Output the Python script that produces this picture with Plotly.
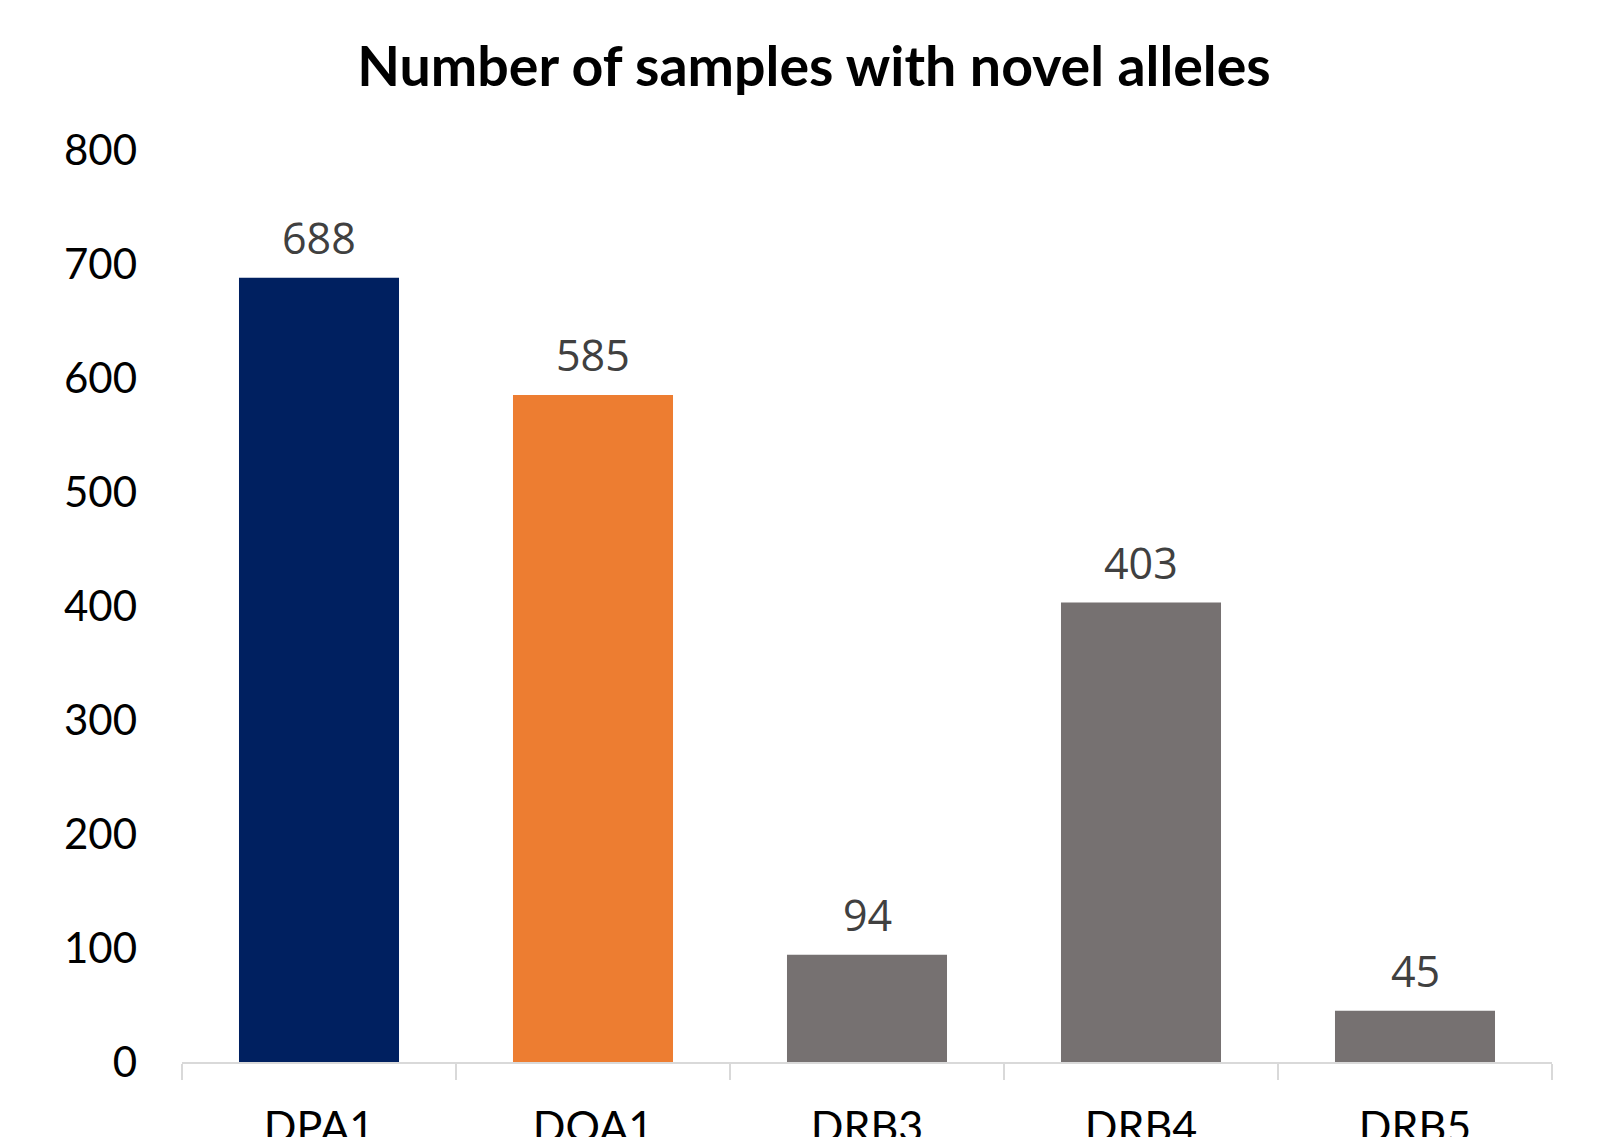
import plotly.graph_objects as go

categories = ["DPA1", "DQA1", "DRB3", "DRB4", "DRB5"]
values = [688, 585, 94, 403, 45]
bar_colors = ["#002060", "#ED7D31", "#767171", "#767171", "#767171"]
y_ticks = [0, 100, 200, 300, 400, 500, 600, 700, 800]
title_text = "Number of samples with novel alleles"

W, H = 1590, 1129  # page body has an 8px margin

fig = go.Figure()
fig.add_trace(go.Bar(
    x=categories, y=values,
    marker=dict(color=bar_colors, line=dict(width=0)),
    hoverinfo="x+y",
))

for c, v in zip(categories, values):
    fig.add_annotation(
        x=c, y=v, xref="x", yref="y", text=str(v), showarrow=False,
        yanchor="bottom", yshift=9,
        font=dict(family="Open Sans", size=43, color="#404040"),
    )

fig.update_layout(
    width=W, height=H,
    margin=dict(l=174, r=46, t=142, b=75, autoexpand=False),
    paper_bgcolor="white", plot_bgcolor="white",
    bargap=0.416,
    showlegend=False,
    title=dict(
        text="<b>" + title_text + "</b>",
        x=(806 - 174) / 1370, xref="paper", xanchor="center",
        y=1 - 59 / H, yref="container", yanchor="middle",
        font=dict(family="Lato", size=55.5, color="black"),
    ),
    xaxis=dict(
        type="category",
        showline=True, linecolor="#d9d9d9", linewidth=2,
        ticks="outside", tickson="boundaries", ticklen=16, tickwidth=2, tickcolor="#d9d9d9",
        tickfont=dict(family="Lato", size=43, color="black"),
        ticklabelstandoff=26,
        showgrid=False, zeroline=False, automargin=False,
    ),
    yaxis=dict(
        range=[0, 800], tickvals=y_ticks,
        showline=False, showgrid=False, zeroline=False,
        tickfont=dict(family="Lato", size=42, color="black"),
        ticks="", ticklabelstandoff=44, automargin=False,
    ),
)

fig.write_html("out.html")
